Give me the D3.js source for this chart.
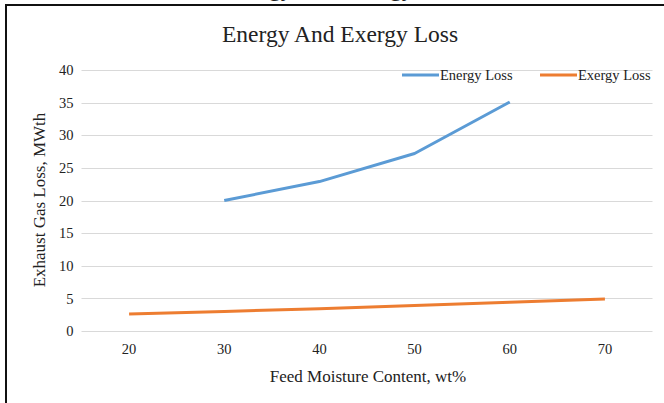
<!DOCTYPE html>
<html>
<head>
<meta charset="utf-8">
<script src="https://cdn.jsdelivr.net/npm/d3@7"></script>
<style>
  body { margin: 0; background: #fff; }
  text { font-family: "Liberation Serif", "Times New Roman", serif; fill: #222; }
</style>
</head>
<body>
<script>
var w = 664;
var h = 403;

// data
var moisture = [20, 30, 40, 50, 60, 70];
var energyLoss = [null, 20.0, 22.9, 27.2, 35.1, null];
var exergyLoss = [2.6, 3.0, 3.4, 3.9, 4.4, 4.9];
var yTicks = [0, 5, 10, 15, 20, 25, 30, 35, 40];
var seriesNames = ["Energy Loss", "Exergy Loss"];
var colors = ["#5b9bd5", "#ed7d31"];

var svg = d3.select("body").append("svg")
    .attr("width", w)
    .attr("height", h);

// chart frame (right and bottom edges run off the picture)
svg.append("rect")
    .attr("x", 6)
    .attr("y", 5)
    .attr("width", 680)
    .attr("height", 420)
    .attr("fill", "#fff")
    .attr("stroke", "#111")
    .attr("stroke-width", 2);

// title of the chart above, cut off by the picture's top edge
svg.append("text")
    .attr("x", 224)
    .attr("y", -4)
    .attr("font-size", 24)
    .text("Energy And Exergy");

svg.append("text")
    .attr("x", 340)
    .attr("y", 42)
    .attr("text-anchor", "middle")
    .attr("font-size", 23.5)
    .text("Energy And Exergy Loss");

var xScale = d3.scaleBand()
    .domain(moisture)
    .range([81.5, 652.5]);

var yScale = d3.scaleLinear()
    .domain([0, 40])
    .range([331, 70]);

// gridlines
svg.append("g")
    .selectAll("line")
    .data(yTicks)
    .join("line")
    .attr("x1", 81.5)
    .attr("x2", 652.5)
    .attr("y1", function(d) { return Math.round(yScale(d)) + 0.5; })
    .attr("y2", function(d) { return Math.round(yScale(d)) + 0.5; })
    .attr("stroke", "#d9d9d9")
    .attr("stroke-width", 1);

// y axis labels
var yAxis = d3.axisLeft(yScale).tickValues(yTicks).tickSize(0).tickPadding(8);
var gy = svg.append("g")
    .attr("transform", "translate(81.5,0)")
    .call(yAxis);
gy.select(".domain").remove();
gy.selectAll("text")
    .attr("font-size", 14.5)
    .attr("font-family", "Liberation Serif")
    .attr("fill", "#222");

// x axis labels
var xAxis = d3.axisBottom(xScale).tickSize(0).tickPadding(13);
var gx = svg.append("g")
    .attr("transform", "translate(0,331)")
    .call(xAxis);
gx.select(".domain").remove();
gx.selectAll("text")
    .attr("font-size", 14.5)
    .attr("font-family", "Liberation Serif")
    .attr("fill", "#222");

// axis titles
svg.append("text")
    .attr("x", 368)
    .attr("y", 382)
    .attr("text-anchor", "middle")
    .attr("font-size", 17)
    .text("Feed Moisture Content, wt%");

svg.append("text")
    .attr("transform", "rotate(-90)")
    .attr("x", -200)
    .attr("y", 45)
    .attr("text-anchor", "middle")
    .attr("font-size", 17)
    .text("Exhaust Gas Loss, MWth");

// lines
var line = d3.line()
    .defined(function(d) { return d.v != null; })
    .x(function(d) { return xScale(d.x) + xScale.bandwidth() / 2; })
    .y(function(d) { return yScale(d.v); });

[energyLoss, exergyLoss].forEach(function(vals, i) {
    var pts = moisture.map(function(x, j) { return { x: x, v: vals[j] }; });
    svg.append("path")
        .datum(pts)
        .attr("fill", "none")
        .attr("stroke", colors[i])
        .attr("stroke-width", 3)
        .attr("stroke-linejoin", "round")
        .attr("d", line);
});

// legend
var legendX = [402, 540];
seriesNames.forEach(function(name, i) {
    svg.append("line")
        .attr("x1", legendX[i])
        .attr("x2", legendX[i] + 37)
        .attr("y1", 75)
        .attr("y2", 75)
        .attr("stroke", colors[i])
        .attr("stroke-width", 3);
    svg.append("text")
        .attr("x", legendX[i] + 38)
        .attr("y", 80)
        .attr("font-size", 14.5)
        .text(name);
});
</script>
</body>
</html>
